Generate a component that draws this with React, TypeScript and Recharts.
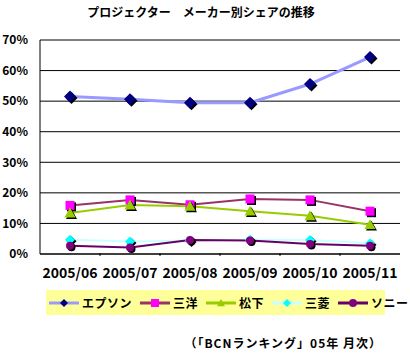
import React from "react";
import { LineChart, Line, XAxis, YAxis, CartesianGrid } from "recharts";

const months = ["2005/06", "2005/07", "2005/08", "2005/09", "2005/10", "2005/11"];
const epson = [51.5, 50.6, 49.5, 49.5, 55.6, 64.4];
const sanyo = [15.9, 17.7, 16.1, 18.0, 17.7, 14.0];
const matsushita = [13.4, 16.0, 15.6, 14.0, 12.5, 9.6];
const mitsubishi = [4.7, 4.1, 4.4, 4.7, 4.6, 3.5];
const sony = [2.7, 2.1, 4.6, 4.4, 3.3, 2.7];
const yTicks = [0, 10, 20, 30, 40, 50, 60, 70];

const data = months.map((m, i) => ({
  month: m,
  epson: epson[i],
  sanyo: sanyo[i],
  matsushita: matsushita[i],
  mitsubishi: mitsubishi[i],
  sony: sony[i],
}));

const FONT = '"Noto Sans CJK JP", "Noto Sans", sans-serif';

type Shape = "diamond" | "square" | "triangle" | "circle";

const series: { key: string; name: string; line: string; fill: string; shape: Shape; width: number; size: number }[] = [
  { key: "epson", name: "エプソン", line: "#9999FF", fill: "#000080", shape: "diamond", width: 3, size: 6 },
  { key: "sanyo", name: "三洋", line: "#993366", fill: "#FF00FF", shape: "square", width: 2, size: 4.5 },
  { key: "matsushita", name: "松下", line: "#99CC00", fill: "#99CC00", shape: "triangle", width: 2, size: 5.5 },
  { key: "mitsubishi", name: "三菱", line: "#CCFFFF", fill: "#00FFFF", shape: "diamond", width: 2, size: 5 },
  { key: "sony", name: "ソニー", line: "#660066", fill: "#800080", shape: "circle", width: 2, size: 4 },
];

function shapeEl(shape: Shape, cx: number, cy: number, s: number, fill: string) {
  switch (shape) {
    case "diamond":
      return <polygon points={`${cx},${cy - s} ${cx + s},${cy} ${cx},${cy + s} ${cx - s},${cy}`} fill={fill} />;
    case "square":
      return <rect x={cx - s} y={cy - s} width={s * 2} height={s * 2} fill={fill} />;
    case "triangle":
      return <polygon points={`${cx},${cy - s} ${cx + s},${cy + s * 0.8} ${cx - s},${cy + s * 0.8}`} fill={fill} />;
    default:
      return <circle cx={cx} cy={cy} r={s} fill={fill} />;
  }
}

const makeDot = (shape: Shape, fill: string, s: number) => (p: any) => {
  const { cx, cy, index } = p;
  if (cx == null || cy == null) return <g key={index} />;
  return (
    <g key={index}>
      {shapeEl(shape, cx + 1.5, cy + 1.5, s, "#000")}
      {shapeEl(shape, cx, cy, s, fill)}
    </g>
  );
};

const XTick = (p: any) => {
  const { x, y, payload, index } = p;
  return (
    <g>
      <text x={x} y={y + 22} textAnchor="middle" fontFamily={FONT} fontWeight="bold" fontSize={14} fill="#000">
        {payload.value}
      </text>
      {index < months.length - 1 && <line x1={x + 30} x2={x + 30} y1={y - 3} y2={y} stroke="#000" />}
    </g>
  );
};

const LegendBox = () => (
  <div
    style={{
      position: "absolute",
      left: 46,
      top: 290,
      background: "#FFFF99",
      width: 339,
      height: 25,
      display: "flex",
      alignItems: "center",
      fontFamily: FONT,
      fontWeight: "bold",
      fontSize: 12,
      boxSizing: "border-box",
      paddingLeft: 3,
      whiteSpace: "nowrap",
    }}
  >
    {series.map((s) => (
      <span key={s.key} style={{ display: "flex", alignItems: "center", marginRight: 8, flexShrink: 0 }}>
        <svg width={30} height={14} style={{ display: "block" }}>
          <line x1={0} x2={30} y1={7} y2={7} stroke={s.line} strokeWidth={3} />
          {shapeEl(s.shape, 15, 7, 4, s.fill)}
        </svg>
        <span style={{ marginLeft: 3, letterSpacing: 0.5 }}>{s.name}</span>
      </span>
    ))}
  </div>
);

export default function App() {
  return (
    <div style={{ position: "absolute", left: 0, top: 0, width: 410, height: 354, background: "#fff" }}>
      <div
        style={{
          position: "absolute",
          top: 3,
          left: 0,
          width: 402,
          textAlign: "center",
          fontFamily: FONT,
          fontWeight: "bold",
          fontSize: 12,
        }}
      >
        プロジェクター　メーカー別シェアの推移
      </div>
      <LineChart width={410} height={354} data={data} margin={{ top: 40, right: 10, left: 0, bottom: 70 }}>
        <CartesianGrid vertical={false} stroke="#000" />
        <XAxis
          dataKey="month"
          padding={{ left: 30, right: 30 }}
          tick={<XTick />}
          tickLine={false}
          tickSize={0}
          height={30}
          axisLine={{ stroke: "#000" }}
          interval={0}
        />
        <YAxis
          domain={[0, 70]}
          ticks={yTicks}
          tickFormatter={(v) => `${v}%`}
          width={40}
          tickLine={false}
          tickSize={0}
          tickMargin={12}
          axisLine={{ stroke: "#000" }}
          tick={{ fontFamily: FONT, fontWeight: "bold", fontSize: 12, fill: "#000" }}
        />
        <YAxis yAxisId="r" orientation="right" domain={[0, 70]} width={0} tick={false} tickLine={false} axisLine={{ stroke: "#000" }} />
        {series.map((s) => (
          <Line
            key={s.key}
            dataKey={s.key}
            name={s.name}
            stroke={s.line}
            strokeWidth={s.width}
            dot={makeDot(s.shape, s.fill, s.size)}
            activeDot={false}
            isAnimationActive={false}
            type="linear"
          />
        ))}
      </LineChart>
      <LegendBox />
      <div
        style={{
          position: "absolute",
          top: 334,
          left: 180,
          width: 202,
          textAlign: "right",
          fontFamily: FONT,
          fontWeight: "bold",
          fontSize: 12,
          letterSpacing: 1,
          whiteSpace: "nowrap",
        }}
      >
        （「BCNランキング」05年 月次）
      </div>
    </div>
  );
}
